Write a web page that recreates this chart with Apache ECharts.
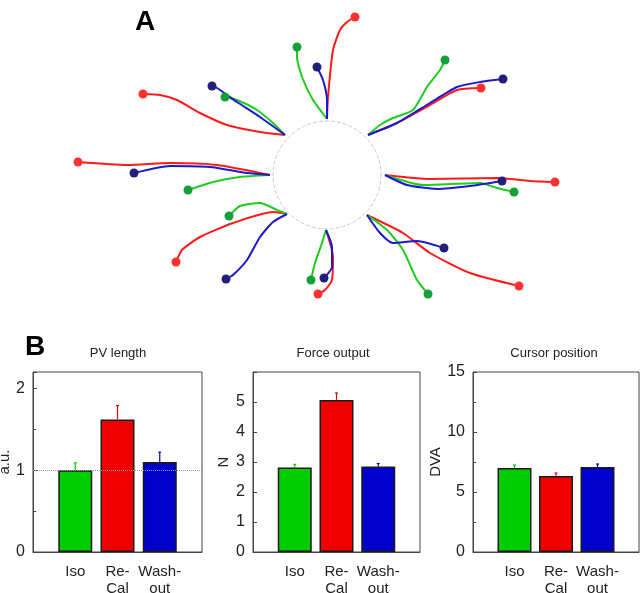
<!DOCTYPE html>
<html>
<head>
<meta charset="utf-8">
<script src="https://cdn.jsdelivr.net/npm/echarts@6/dist/echarts.min.js"></script>
<style>
html, body { margin: 0; padding: 0; background: #fff; }
#chart { width: 640px; height: 593px; }
</style>
</head>
<body>
<div id="chart"></div>
<script>
// Panel A: reach paths, units relative to the start circle centre (y up)
const isoPaths = [
  [[-4.2, 4.0], [-5.4, 5.2], [-7.0, 6.5], [-9.0, 7.5], [-10.2, 7.8]],
  [[0, 5.6], [-1.4, 7.5], [-2.5, 9.8], [-3.0, 11.8], [-3.0, 12.8]],
  [[4.1, 4.0], [5.3, 5.0], [6.6, 5.7], [8.6, 6.5], [10.0, 8.8], [11.3, 10.5], [11.8, 11.5]],
  [[5.8, 0], [9.6, -1.0], [15.3, -0.8], [17.0, -1.3], [18.7, -1.7]],
  [[4.0, -4.0], [6.0, -5.5], [7.6, -7.5], [9.0, -10.5], [10.1, -11.9]],
  [[-0.1, -5.5], [-0.5, -6.8], [-1.2, -8.8], [-1.6, -10.5]],
  [[-4.0, -3.9], [-5.0, -3.5], [-6.7, -2.8], [-8.7, -3.1], [-9.8, -4.1]],
  [[-5.7, 0], [-8.7, -0.2], [-11.4, -0.7], [-13.9, -1.5]]
]
const recalPaths = [
  [[-4.2, 4.0], [-6.7, 4.3], [-10.0, 5.0], [-12.7, 6.2], [-15.0, 7.5], [-16.7, 8.0], [-18.4, 8.1]],
  [[0, 5.6], [0.1, 7.8], [0.6, 12.5], [1.3, 14.5], [2.0, 15.3], [2.8, 15.8]],
  [[4.1, 4.0], [7.0, 5.2], [10.3, 7.0], [13.0, 8.5], [15.4, 8.7]],
  [[5.8, 0], [10.3, -0.4], [17.0, -0.3], [20.3, -0.6], [22.8, -0.7]],
  [[4.0, -4.0], [7.6, -5.8], [10.3, -7.8], [14.3, -9.8], [19.2, -11.1]],
  [[-0.1, -5.5], [0.6, -8.2], [0.5, -10.5], [-0.2, -11.5], [-0.9, -11.9]],
  [[-4.0, -3.9], [-5.4, -3.7], [-9.4, -4.8], [-12.7, -6.2], [-14.5, -7.5], [-15.1, -8.7]],
  [[-5.7, 0], [-11.0, 1.0], [-15.7, 1.2], [-20.0, 1.0], [-24.9, 1.3]]
]
const washPaths = [
  [[-4.2, 4.0], [-6.7, 5.8], [-9.0, 7.3], [-11.0, 8.7], [-11.5, 8.9]],
  [[0, 5.6], [0, 7.5], [-0.4, 9.5], [-1.0, 10.8]],
  [[4.1, 4.0], [7.0, 5.2], [10.3, 7.2], [13.0, 8.8], [15.3, 9.3], [17.6, 9.6]],
  [[5.8, 0], [8.0, -1.0], [11.0, -1.4], [14.3, -1.1], [17.5, -0.6]],
  [[4.0, -4.0], [5.3, -5.8], [6.6, -6.8], [9.0, -6.6], [11.7, -7.3]],
  [[-0.1, -5.5], [0.5, -7.2], [0.5, -9.2], [-0.3, -10.3]],
  [[-4.0, -3.9], [-5.4, -4.7], [-6.7, -6.2], [-8.0, -8.5], [-9.4, -10.0], [-10.1, -10.4]],
  [[-5.7, 0], [-8.0, 0.2], [-11.7, 0.8], [-15.7, 0.9], [-19.3, 0.2]]
]

// Panel B: means and upper error (SEM)
const conditions = ['Iso', 'Re-\nCal', 'Wash-\nout']
const pvMean = [1.0, 1.62, 1.10]
const pvErr = [0.09, 0.17, 0.12]
const forceMean = [2.82, 5.07, 2.85]
const forceErr = [0.10, 0.23, 0.10]
const cursorMean = [7.0, 6.33, 7.08]
const cursorErr = [0.25, 0.25, 0.25]

const barColors = ['#00cc00', '#ee0000', '#0000cc']
const FONT = 'Liberation Sans, Arial, sans-serif'

const myChart = echarts.init(document.getElementById('chart'))

const grids = [{ left: 27, top: 5, width: 600, height: 310, outerBoundsMode: 'none', containLabel: false }]
const xAxes = [{ type: 'value', gridIndex: 0, min: -30, max: 30, show: false }]
const yAxes = [{ type: 'value', gridIndex: 0, min: -14, max: 17, show: false }]
const series = [{
  type: 'scatter',
  xAxisIndex: 0, yAxisIndex: 0,
  data: [[0, 0]],
  symbolSize: 108,
  silent: true,
  itemStyle: { color: 'rgba(0,0,0,0)', borderColor: '#c8c8c8', borderWidth: 1, borderType: 'dashed', opacity: 1 },
  z: 1
}]

const groups = [
  { paths: recalPaths, line: '#ff1a1a', dot: '#ff3030' },
  { paths: isoPaths, line: '#1ecc1e', dot: '#16a03a' },
  { paths: washPaths, line: '#1a1acc', dot: '#221f78' }
]
groups.forEach(g => {
  g.paths.forEach(p => {
    series.push({
      type: 'line',
      xAxisIndex: 0, yAxisIndex: 0,
      data: p,
      smooth: 0.2,
      symbol: 'none',
      lineStyle: { color: g.line, width: 2 },
      silent: true,
      z: 2
    })
  })
})
groups.forEach(g => {
  series.push({
    type: 'scatter',
    xAxisIndex: 0, yAxisIndex: 0,
    data: g.paths.map(p => p[p.length - 1]),
    symbolSize: 9,
    itemStyle: { color: g.dot, opacity: 1 },
    silent: true,
    z: 3
  })
})

function barPanel(idx, left, width, means, errs, yMax, yName, nameGap, labelMax, minor) {
  grids.push({
    left, top: 372, width, height: 180, show: true, borderColor: '#444', borderWidth: 1,
    outerBoundsMode: 'none', containLabel: false
  })
  xAxes.push({
    type: 'value', gridIndex: idx, min: 0, max: 4, interval: 1,
    axisLine: { show: true, lineStyle: { color: '#444' } },
    axisTick: { show: false },
    splitLine: { show: false },
    axisLabel: {
      formatter: v => conditions[v - 1] || '',
      fontSize: 15, fontFamily: FONT, color: '#222', lineHeight: 17, margin: 11
    }
  })
  yAxes.push({
    type: 'value', gridIndex: idx, min: 0, max: yMax,
    interval: labelMax >= 10 ? 5 : 1,
    name: yName, nameLocation: 'middle', nameGap,
    nameTextStyle: { fontSize: 15, fontFamily: FONT, color: '#222' },
    axisLine: { show: true, lineStyle: { color: '#444' } },
    axisTick: { show: true, inside: true, length: 4, lineStyle: { color: '#444' } },
    minorTick: { show: minor, splitNumber: 2, length: 3, lineStyle: { color: '#444' } },
    splitLine: { show: false },
    axisLabel: {
      formatter: v => (v <= labelMax && Number.isInteger(v) ? String(v) : ''),
      fontSize: 16, fontFamily: FONT, color: '#222', margin: 8
    }
  })
  const bar = {
    type: 'bar',
    xAxisIndex: idx, yAxisIndex: idx,
    barWidth: 34,
    data: means.map((m, k) => ({ value: [k + 1, m], itemStyle: { color: barColors[k] } })),
    itemStyle: { borderColor: '#1a1a1a', borderWidth: 1.5 },
    silent: true,
    z: 2
  }
  if (idx === 1) {
    bar.markLine = {
      silent: true, symbol: 'none', label: { show: false },
      lineStyle: { color: '#8a9aaa', type: 'dotted', width: 1 },
      data: [{ yAxis: 1 }]
    }
  }
  series.push(bar)
  series.push({
    type: 'custom',
    xAxisIndex: idx, yAxisIndex: idx,
    data: means.map((m, k) => [k + 1, m, m + errs[k], k]),
    renderItem: (params, api) => {
      const base = api.coord([api.value(0), api.value(1)])
      const top = api.coord([api.value(0), api.value(2)])
      const c = barColors[api.value(3)]
      return {
        type: 'group',
        children: [
          { type: 'line', shape: { x1: base[0], y1: base[1], x2: top[0], y2: top[1] }, style: { stroke: c, lineWidth: 1.2 } },
          { type: 'line', shape: { x1: top[0] - 1.5, y1: top[1], x2: top[0] + 1.5, y2: top[1] }, style: { stroke: c, lineWidth: 1.2 } }
        ]
      }
    },
    silent: true,
    z: 3
  })
}

barPanel(1, 33, 169, pvMean, pvErr, 2.2, 'a.u.', 19, 2, true)
barPanel(2, 253, 167, forceMean, forceErr, 6, 'N', 22, 5, false)
barPanel(3, 473, 166, cursorMean, cursorErr, 15, 'DVA', 22, 15, true)

const label = (text, x, y, size, weight) => ({
  type: 'text', x, y,
  style: { text, fontSize: size, fontWeight: weight || 'normal', fontFamily: FONT, fill: weight ? '#000' : '#222', align: 'center', verticalAlign: 'middle' }
})

myChart.setOption({
  animation: false,
  grid: grids,
  xAxis: xAxes,
  yAxis: yAxes,
  series,
  graphic: [
    label('A', 145, 22, 28, 'bold'),
    label('B', 35, 347, 28, 'bold'),
    label('PV length', 118, 353, 13),
    label('Force output', 333, 353, 13),
    label('Cursor position', 554, 353, 13)
  ]
})
</script>
</body>
</html>
